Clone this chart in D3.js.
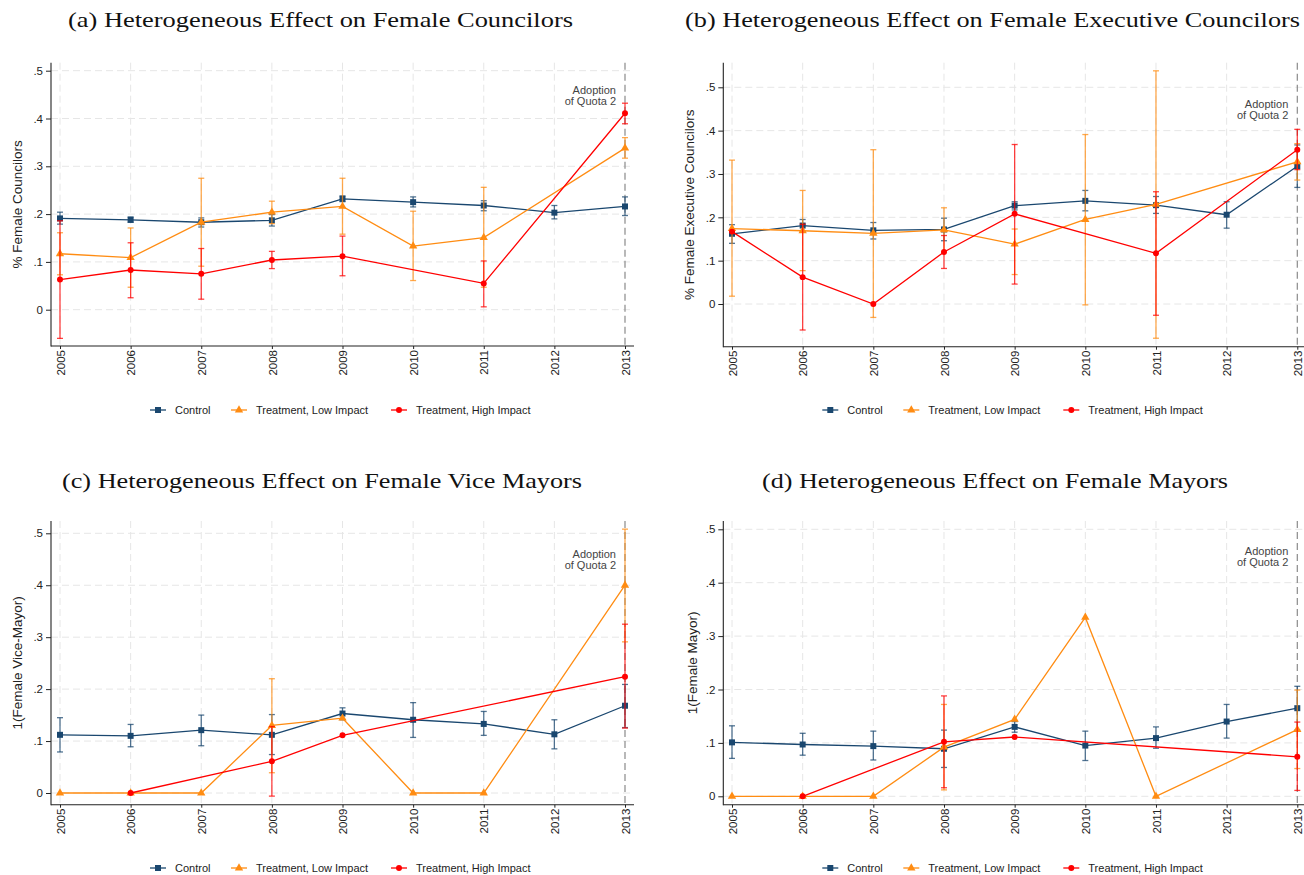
<!DOCTYPE html>
<html><head><meta charset="utf-8">
<script src="https://cdn.jsdelivr.net/npm/d3@7"></script>
<style>body{margin:0;background:#fff} svg{display:block}</style>
</head><body><svg id="chart" width="1304" height="875"></svg>
<script>
// ---------- DATA ----------
const years = [2005, 2006, 2007, 2008, 2009, 2010, 2011, 2012, 2013];
const yTicks = [0, 0.1, 0.2, 0.3, 0.4, 0.5];
const seriesNames = ["Control", "Treatment, Low Impact", "Treatment, High Impact"];
const panelTitles = [
  "(a) Heterogeneous Effect on Female Councilors",
  "(b) Heterogeneous Effect on Female Executive Councilors",
  "(c) Heterogeneous Effect on Female Vice Mayors",
  "(d) Heterogeneous Effect on Female Mayors"
];
const yTitles = ["% Female Councilors", "% Female Executive Councilors", "1(Female Vice-Mayor)", "1(Female Mayor)"];
const annotationLines = ["Adoption", "of Quota 2"];
const annotationYear = 2013;
const annotationValue = 0.45;

// (a) Councilors
const aControl   = [.191, .188, .183, .187, .232, .225, .218, .203, .216];
const aControlLo = [.179, .183, .173, .175, .226, .215, .207, .190, .197];
const aControlHi = [.204, .194, .192, .199, .238, .236, .228, .218, .236];
const aLow   = [.117, .109, .183, .204, .216, .133, .151, null, .338];
const aLowLo = [.073, .047, .091, .180, .158, .061, .047, null, .317];
const aLowHi = [.161, .171, .275, .227, .275, .206, .256, null, .360];
const aHigh   = [.063, .083, .075, .104, .112, null, .055, null, .411];
const aHighLo = [-.060, .025, .022, .086, .071, null, .006, null, .389];
const aHighHi = [.186, .140, .128, .122, .154, null, .102, null, .432];

// (b) Executive councilors
const bControl   = [.162, .181, .170, .172, .227, .238, .228, .206, .318];
const bControlLo = [.140, .167, .150, .146, .217, .215, .209, .175, .269];
const bControlHi = [.183, .195, .188, .198, .236, .262, .248, .236, .367];
const bLow   = [.174, .169, .163, .171, .138, .195, .230, null, .328];
const bLowLo = [.018, .077, -.031, .120, .068, -.002, -.079, null, .286];
const bLowHi = [.332, .262, .356, .222, .173, .391, .538, null, .370];
const bHigh   = [.167, .062, 0, .120, .208, null, .117, null, .356];
const bHighLo = [null, -.060, null, .082, .046, null, -.026, null, .310];
const bHighHi = [null, .184, null, .158, .368, null, .259, null, .403];

// (c) Vice mayors
const cControl   = [.112, .110, .121, .112, .153, .141, .133, .113, .168];
const cControlLo = [.079, .089, .091, .074, .141, .107, .111, .085, .126];
const cControlHi = [.145, .132, .150, .151, .164, .174, .157, .141, .209];
const cLow   = [0, 0, 0, .130, .144, 0, 0, null, .400];
const cLowLo = [null, null, null, .039, null, null, null, null, .291];
const cLowHi = [null, null, null, .220, null, null, null, null, .508];
const cHigh   = [null, 0, null, .061, .111, null, null, null, .224];
const cHighLo = [null, null, null, -.006, null, null, null, null, .125];
const cHighHi = [null, null, null, .128, null, null, null, null, .325];

// (d) Mayors
const dControl   = [.101, .097, .094, .089, .130, .095, .109, .140, .165];
const dControlLo = [.071, .077, .068, .054, .120, .067, .090, .109, .124];
const dControlHi = [.132, .118, .122, .124, .140, .122, .130, .172, .206];
const dLow   = [0, 0, 0, .092, .144, .335, 0, null, .125];
const dLowLo = [null, null, null, .012, null, null, null, null, .052];
const dLowHi = [null, null, null, .172, null, null, null, null, .199];
const dHigh   = [null, 0, null, .102, .111, null, null, null, .074];
const dHighLo = [null, null, null, .016, null, null, null, null, .011];
const dHighHi = [null, null, null, .188, null, null, null, null, .139];

const panelData = [
  [[aControl, aControlLo, aControlHi], [aLow, aLowLo, aLowHi], [aHigh, aHighLo, aHighHi]],
  [[bControl, bControlLo, bControlHi], [bLow, bLowLo, bLowHi], [bHigh, bHighLo, bHighHi]],
  [[cControl, cControlLo, cControlHi], [cLow, cLowLo, cLowHi], [cHigh, cHighLo, cHighHi]],
  [[dControl, dControlLo, dControlHi], [dLow, dLowLo, dLowHi], [dHigh, dHighLo, dHighHi]]
];

// ---------- STYLE / LAYOUT ----------
const colors = ["#1a476f", "#ff8c12", "#ff0000"];
const symbols = [d3.symbolSquare, d3.symbolTriangle, d3.symbolCircle];
const symSizes = [36, 30, 28];
const layout = [
  {ax: 51,    x0: 60,  x1: 625,    right: 634,  top: 62.7, bottom: 346,   y0: 309.7, y5: 70.7,  legY: 410, tx: 68,  tw: 505, ty: 27,  ylx: 17},
  {ax: 723.3, x0: 732, x1: 1297.3, right: 1304, top: 62.7, bottom: 346.7, y0: 304,   y5: 87.3,  legY: 410, tx: 685, tw: 615, ty: 27,  ylx: 689},
  {ax: 51,    x0: 60,  x1: 625,    right: 634,  top: 521,  bottom: 804.7, y0: 793,   y5: 533.3, legY: 868, tx: 62,  tw: 520, ty: 488, ylx: 17},
  {ax: 723.3, x0: 732, x1: 1297.3, right: 1304, top: 521,  bottom: 804.7, y0: 796.3, y5: 529.3, legY: 868, tx: 762, tw: 466, ty: 488, ylx: 692}
];
const sans = "'Liberation Sans', Arial, Helvetica, sans-serif";
const serif = "'Liberation Serif', 'DejaVu Serif', serif";

const svg = d3.select("#chart");
svg.append("rect").attr("width", 1304).attr("height", 875).attr("fill", "#fff");

const fmtY = d => d === 0 ? "0" : d3.format(".1f")(d).replace(/^0/, "");

layout.forEach((P, pi) => {
  const g = svg.append("g");
  const x = d3.scaleLinear().domain([years[0], years[years.length - 1]]).range([P.x0, P.x1]);
  const y = d3.scaleLinear().domain([0, 0.5]).range([P.y0, P.y5]);

  // title
  g.append("text").attr("x", P.tx).attr("y", P.ty)
    .attr("textLength", P.tw).attr("lengthAdjust", "spacingAndGlyphs")
    .attr("font-family", serif).attr("font-size", 22).attr("fill", "#111")
    .text(panelTitles[pi]);

  // grid
  g.append("g").selectAll("line").data(yTicks).join("line")
    .attr("x1", P.ax).attr("x2", P.right).attr("y1", d => y(d)).attr("y2", d => y(d))
    .attr("stroke", "#e6e6e6").attr("stroke-width", 1).attr("stroke-dasharray", "7,4");
  g.append("g").selectAll("line").data(years.filter(yr => yr !== annotationYear)).join("line")
    .attr("x1", d => x(d)).attr("x2", d => x(d)).attr("y1", P.top).attr("y2", P.bottom)
    .attr("stroke", "#e6e6e6").attr("stroke-width", 1).attr("stroke-dasharray", "7,4");

  // quota line
  g.append("line").attr("x1", x(annotationYear)).attr("x2", x(annotationYear))
    .attr("y1", P.top).attr("y2", P.bottom)
    .attr("stroke", "#8a8a8a").attr("stroke-width", 1.2).attr("stroke-dasharray", "7,4");

  // annotation
  const an = g.append("text").attr("text-anchor", "end").attr("font-family", sans)
    .attr("font-size", 11).attr("fill", "#444");
  annotationLines.forEach((t, i) => {
    an.append("tspan").attr("x", x(annotationYear) - 9).attr("y", y(annotationValue) - 1 + i * 11).text(t);
  });

  // axes
  const yAxis = g.append("g").attr("transform", `translate(${P.ax},0)`)
    .call(d3.axisLeft(y).tickValues(yTicks).tickFormat(fmtY).tickSize(5).tickPadding(3));
  yAxis.select(".domain").remove();
  yAxis.selectAll("line").attr("stroke", "#222");
  yAxis.selectAll("text").attr("font-family", sans).attr("font-size", 11.5).attr("fill", "#222");

  const xAxis = g.append("g").attr("transform", `translate(0,${P.bottom})`)
    .call(d3.axisBottom(x).tickValues(years).tickFormat(d3.format("d")).tickSize(3));
  xAxis.select(".domain").remove();
  xAxis.selectAll("line").attr("stroke", "#222");
  xAxis.selectAll("text").attr("font-family", sans).attr("font-size", 11.5).attr("fill", "#222")
    .attr("transform", "rotate(-90)").attr("text-anchor", "end")
    .attr("x", -4).attr("y", 0).attr("dy", "0.36em");

  g.append("line").attr("x1", P.ax).attr("x2", P.ax).attr("y1", P.top).attr("y2", P.bottom + 0.5)
    .attr("stroke", "#222").attr("stroke-width", 1.1);
  g.append("line").attr("x1", P.ax).attr("x2", P.right).attr("y1", P.bottom).attr("y2", P.bottom)
    .attr("stroke", "#222").attr("stroke-width", 1.1);

  // y-axis title
  g.append("text").attr("transform", `translate(${P.ylx},${(P.top + P.bottom) / 2}) rotate(-90)`)
    .attr("text-anchor", "middle").attr("dominant-baseline", "central")
    .attr("font-family", sans).attr("font-size", 13.5).attr("fill", "#222")
    .text(yTitles[pi]);

  // series
  panelData[pi].forEach((s, si) => {
    const [est, lo, hi] = s;
    const pts = years.map((yr, i) => ({yr, v: est[i], lo: lo[i], hi: hi[i]})).filter(d => d.v !== null);
    const sg = g.append("g");
    const ci = pts.filter(d => d.lo !== null && d.hi !== null);
    sg.selectAll("line.ci").data(ci).join("line").attr("class", "ci")
      .attr("x1", d => x(d.yr)).attr("x2", d => x(d.yr)).attr("y1", d => y(d.lo)).attr("y2", d => y(d.hi))
      .attr("stroke", colors[si]).attr("stroke-opacity", 0.75).attr("stroke-width", 1.3);
    ["lo", "hi"].forEach(k => {
      sg.selectAll("line.cap" + k).data(ci).join("line").attr("class", "cap" + k)
        .attr("x1", d => x(d.yr) - 3).attr("x2", d => x(d.yr) + 3)
        .attr("y1", d => y(d[k])).attr("y2", d => y(d[k]))
        .attr("stroke", colors[si]).attr("stroke-opacity", 0.75).attr("stroke-width", 1.3);
    });
    sg.append("path").datum(pts)
      .attr("d", d3.line().x(d => x(d.yr)).y(d => y(d.v)))
      .attr("fill", "none").attr("stroke", colors[si]).attr("stroke-width", 1.3);
    sg.selectAll("path.m").data(pts).join("path").attr("class", "m")
      .attr("transform", d => `translate(${x(d.yr)},${y(d.v)})`)
      .attr("d", d3.symbol().type(symbols[si]).size(symSizes[si]))
      .attr("fill", colors[si]);
  });

  // legend
  const legOffsets = [107, 188, 348];
  seriesNames.forEach((name, si) => {
    const mx = P.ax + legOffsets[si];
    const lg = g.append("g");
    lg.append("line").attr("x1", mx - 8).attr("x2", mx + 8).attr("y1", P.legY).attr("y2", P.legY)
      .attr("stroke", colors[si]).attr("stroke-width", 1.3);
    lg.append("path").attr("transform", `translate(${mx},${P.legY})`)
      .attr("d", d3.symbol().type(symbols[si]).size(symSizes[si])).attr("fill", colors[si]);
    lg.append("text").attr("x", mx + 17).attr("y", P.legY).attr("dominant-baseline", "central")
      .attr("font-family", sans).attr("font-size", 11).attr("fill", "#222").text(name);
  });
});
</script>
</body></html>
